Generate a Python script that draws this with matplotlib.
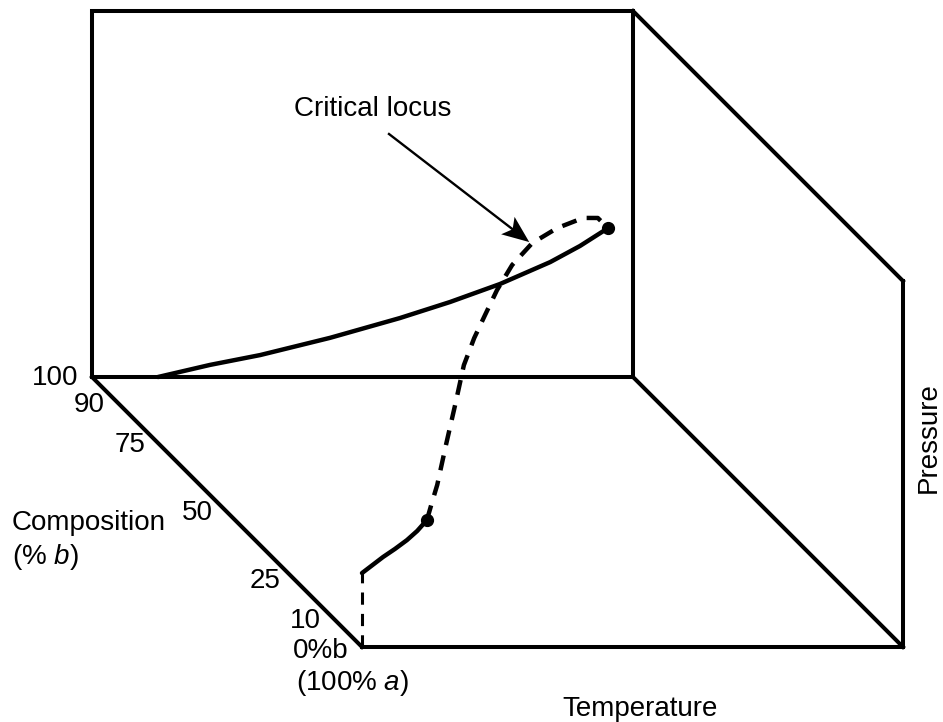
import numpy as np
import matplotlib.pyplot as plt
from matplotlib.patches import Polygon

plt.rcParams['font.family'] = ['Liberation Sans', 'DejaVu Sans']
plt.rcParams['mathtext.fontset'] = 'custom'
plt.rcParams['mathtext.rm'] = 'Liberation Sans'
plt.rcParams['mathtext.it'] = 'Liberation Sans:italic'

# reduced temperature / pressure along the vapour-pressure curve of pure b (100% b face)
b_temp = [0.122, 0.218, 0.311, 0.440, 0.569, 0.662, 0.754, 0.847, 0.902, 0.954]
b_pres = [0.000, 0.033, 0.060, 0.107, 0.161, 0.205, 0.254, 0.314, 0.358, 0.407]

# vapour-pressure curve of pure a (0% b face)
a_temp = [0.000, 0.039, 0.061, 0.083, 0.102, 0.120]
a_pres = [0.202, 0.246, 0.268, 0.292, 0.317, 0.347]

# critical locus joining the two critical points
crit_temp = [0.120, 0.149, 0.179, 0.230, 0.287, 0.348, 0.407, 0.467, 0.529,
             0.607, 0.694, 0.780, 0.863, 0.915, 0.954]
crit_comp = [0.00, 0.04, 0.08, 0.15, 0.23, 0.32, 0.40, 0.48, 0.56,
             0.66, 0.76, 0.84, 0.91, 0.96, 1.00]
crit_pres = [0.347, 0.364, 0.384, 0.441, 0.492, 0.534, 0.549, 0.553, 0.562,
             0.557, 0.543, 0.525, 0.501, 0.464, 0.407]

comp_ticks = [100, 90, 75, 50, 25, 10]

# oblique projection of (temperature, composition, pressure) onto the page
ORIGIN = (362, 647)
WIDTH, DEPTH, HEIGHT = 541, 270, 366


def project(t, c, p):
    t, c, p = np.asarray(t), np.asarray(c), np.asarray(p)
    return ORIGIN[0] + WIDTH * t - DEPTH * c, ORIGIN[1] - DEPTH * c - HEIGHT * p


def stealth_arrow(ax, start, tip, length=27, half_width=11, notch=6, lw=1.7):
    start, tip = np.asarray(start, float), np.asarray(tip, float)
    d = (tip - start) / np.hypot(*(tip - start))
    n = np.array([-d[1], d[0]])
    back = tip - d * length
    ax.plot([start[0], back[0] + d[0] * notch], [start[1], back[1] + d[1] * notch],
            color='black', lw=lw)
    head = [tip, back + n * half_width, back + d * notch, back - n * half_width]
    ax.add_patch(Polygon(head, closed=True, color='black', lw=0))


fig = plt.figure(figsize=(9.43, 7.22), dpi=100)
ax = fig.add_axes([0, 0, 1, 1])
ax.set_xlim(0, 943)
ax.set_ylim(722, 0)
ax.axis('off')

box_lw = 2.9
# back face (100% b)
bx, by = project([0, 1, 1, 0, 0], [1, 1, 1, 1, 1], [0, 0, 1, 1, 0])
ax.plot(bx, by, color='black', lw=box_lw, solid_joinstyle='miter')
# remaining edges of the box
edges = [((1, 1, 1), (1, 0, 1)), ((1, 0, 1), (1, 0, 0)), ((1, 1, 0), (1, 0, 0)),
         ((0, 0, 0), (1, 0, 0)), ((0, 1, 0), (0, 0, 0))]
for start, end in edges:
    ex, ey = project(*zip(start, end))
    ax.plot(ex, ey, color='black', lw=box_lw, solid_capstyle='projecting')

curve_lw = 3.2
x, y = project(b_temp, np.ones(len(b_temp)), b_pres)
ax.plot(x, y, color='black', lw=curve_lw, solid_capstyle='round')
x, y = project(a_temp, np.zeros(len(a_temp)), a_pres)
ax.plot(x, y, color='black', lw=curve_lw, solid_capstyle='round')

# dashed critical locus and the dashed drop to zero pressure for pure a
x, y = project(crit_temp, crit_comp, crit_pres)
ax.plot(x, y, color='black', lw=curve_lw, linestyle=(0, (3.4, 2.4)))
x, y = project([0, 0], [0, 0], [0, a_pres[0]])
ax.plot(x, y, color='black', lw=2.2, linestyle=(0, (4.0, 3.0)))

# critical points of the pure components
x, y = project([a_temp[-1], b_temp[-1]], [0, 1], [a_pres[-1], b_pres[-1]])
ax.plot(x, y, 'o', color='black', ms=8.5)

fs = 20
for c in comp_ticks:
    x, y = project(0, c / 100, 0)
    ax.text(x - 14, y + 8, str(c), ha='right', va='baseline', fontsize=fs)
x, y = project(0, 0, 0)
ax.text(x - 14, y + 11, '0%b', ha='right', va='baseline', fontsize=fs)
ax.text(296, 690, r'(100% $\it{a}$)', ha='left', va='baseline', fontsize=fs)

ax.text(12, 530, 'Composition', ha='left', va='baseline', fontsize=fs)
ax.text(12, 564, r'(% $\it{b}$)', ha='left', va='baseline', fontsize=fs)
ax.text(562, 716, 'Temperature', ha='left', va='baseline', fontsize=fs)
ax.text(929, 438, 'Pressure', rotation=90, ha='center', va='center', fontsize=fs)

ax.text(294, 116, 'Critical locus', ha='left', va='baseline', fontsize=fs)
tip = project(crit_temp[10], crit_comp[10], crit_pres[10])
stealth_arrow(ax, (389, 134), (tip[0] - 3, tip[1] - 1))

fig.savefig('out.png', dpi=100)
